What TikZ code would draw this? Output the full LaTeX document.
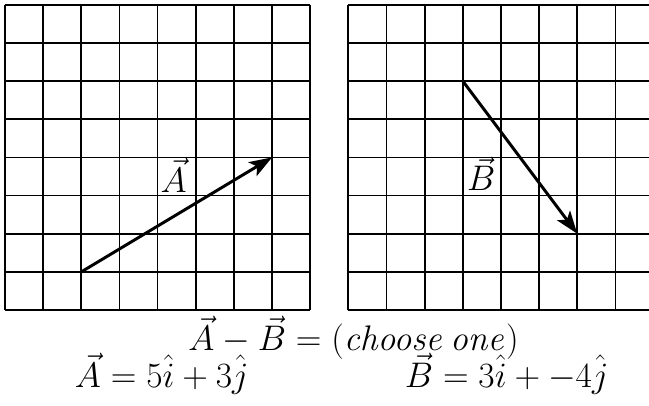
\RequirePackage{fix-cm}
\documentclass[tikz,border=0pt]{standalone}
\usetikzlibrary{arrows.meta}
\begin{document}
\begin{tikzpicture}[x=1cm,y=1cm,
  gridline/.style={line width=1.3pt,black},
  vecarrow/.style={line width=2.2pt,-{Stealth[length=17pt,width=12pt,inset=4pt]}},
  lbl/.style={font=\fontsize{26.5}{30}\selectfont,inner sep=0pt,anchor=base}]
\useasboundingbox (-0.131,-2.49) rectangle (16.88,8.126);
\begin{scope}
\clip (-0.131,-2.49) rectangle (16.88,8.126);
\draw[gridline] (0,0) grid (8,8);
\draw[gridline] (9,0) grid (17,8);
\end{scope}
\coordinate (a0) at (2,1);
\coordinate (a1) at (7,4);
\coordinate (b0) at (12,6);
\coordinate (b1) at (15,2);
\draw[vecarrow] (a0) -- (a1);
\draw[vecarrow] (b0) -- (b1);
\node[lbl] (la) at (4.42,3.09) {$\vec{A}$};
\node[lbl] (lb) at (12.48,3.12) {$\vec{B}$};
\node[lbl] (q) at (9.135,-1.05) {$\vec{A}-\vec{B}=(\mathit{choose\,one})$};
\node[lbl] (ea) at (4.11,-2.03) {$\vec{A}=5\hat{i}+3\hat{j}$};
\node[lbl] (eb) at (13.15,-2.03) {$\vec{B}=3\hat{i}+-4\hat{j}$};
\end{tikzpicture}
\end{document}
